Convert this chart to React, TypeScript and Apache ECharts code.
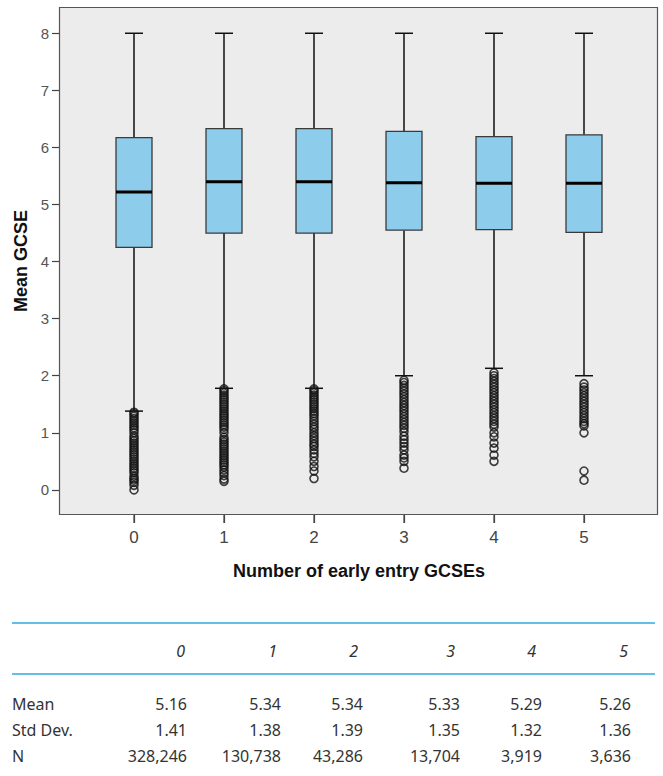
import React, { useEffect, useRef } from "react";
import * as echarts from "echarts";

const categories = ["0", "1", "2", "3", "4", "5"];
// [min whisker, Q1, median, Q3, max whisker]
const boxStats = [
  [1.38, 4.25, 5.22, 6.17, 8],
  [1.78, 4.5, 5.4, 6.33, 8],
  [1.78, 4.5, 5.4, 6.33, 8],
  [2.0, 4.55, 5.38, 6.28, 8],
  [2.13, 4.56, 5.37, 6.19, 8],
  [2.0, 4.51, 5.37, 6.22, 8],
];
const outliers0 = [0, 0.08, 0.13, 0.17, 0.2, 0.24, 0.3, 0.34, 0.38, 0.42, 0.46, 0.5, 0.54, 0.58, 0.62, 0.66, 0.7, 0.74, 0.78, 0.82, 0.86, 0.9, 0.94, 1.0, 1.05, 1.09, 1.13, 1.17, 1.21, 1.25, 1.29, 1.33, 1.36];
const outliers1 = [0.15, 0.19, 0.25, 0.3, 0.35, 0.4, 0.44, 0.48, 0.52, 0.56, 0.6, 0.64, 0.68, 0.72, 0.76, 0.8, 0.84, 0.88, 0.92, 1.0, 1.06, 1.1, 1.14, 1.18, 1.22, 1.26, 1.3, 1.34, 1.38, 1.42, 1.46, 1.5, 1.54, 1.58, 1.62, 1.66, 1.7, 1.74, 1.77];
const outliers2 = [0.2, 0.33, 0.41, 0.5, 0.58, 0.64, 0.7, 0.76, 0.8, 0.85, 0.9, 0.95, 1.0, 1.06, 1.1, 1.15, 1.2, 1.25, 1.3, 1.34, 1.38, 1.42, 1.46, 1.5, 1.54, 1.58, 1.62, 1.66, 1.7, 1.74, 1.77];
const outliers3 = [0.38, 0.5, 0.56, 0.61, 0.7, 0.76, 0.82, 0.88, 0.94, 1.02, 1.08, 1.13, 1.18, 1.23, 1.28, 1.33, 1.38, 1.43, 1.48, 1.53, 1.58, 1.63, 1.68, 1.73, 1.78, 1.83, 1.88, 1.92];
const outliers4 = [0.5, 0.61, 0.73, 0.82, 0.93, 1.0, 1.1, 1.15, 1.2, 1.25, 1.3, 1.35, 1.4, 1.45, 1.5, 1.55, 1.6, 1.65, 1.7, 1.75, 1.8, 1.85, 1.9, 1.95, 2.0, 2.05];
const outliers5 = [0.17, 0.33, 1.0, 1.12, 1.16, 1.2, 1.25, 1.3, 1.35, 1.4, 1.45, 1.5, 1.55, 1.6, 1.65, 1.7, 1.75, 1.8, 1.86];
const outlierLists = [outliers0, outliers1, outliers2, outliers3, outliers4, outliers5];
const yTicks = [0, 1, 2, 3, 4, 5, 6, 7, 8];
const yMin = -0.44;
const yMax = 8.46;

const tableHeader = ["0", "1", "2", "3", "4", "5"];
const tableMean = ["5.16", "5.34", "5.34", "5.33", "5.29", "5.26"];
const tableStd = ["1.41", "1.38", "1.39", "1.35", "1.32", "1.36"];
const tableN = ["328,246", "130,738", "43,286", "13,704", "3,919", "3,636"];
const rowLabels = ["Mean", "Std Dev.", "N"];

const colRight = [187, 281, 363, 460, 542, 631];
const headerRight = [185, 277, 358, 455, 536, 628];

export default function App() {
  const ref = useRef<HTMLDivElement>(null);
  useEffect(() => {
    if (!ref.current) return;
    const chart = echarts.init(ref.current, undefined, { renderer: "svg" });
    const boxData = boxStats.map((s, i) => [i, ...s]);
    const scatterData: number[][] = [];
    outlierLists.forEach((lst, i) => lst.forEach((v) => scatterData.push([i, v])));

    const tableFont = '"Noto Sans", "Open Sans", sans-serif';
    const axisFont = '"Liberation Sans", Arial, sans-serif';
    const graphics: any[] = [
      {
        type: "rect",
        z: -10,
        shape: { x: 59.5, y: 7.5, width: 598, height: 507 },
        style: { fill: "#ECECEC", stroke: "#555", lineWidth: 1.2 },
      },
      {
        type: "line",
        shape: { x1: 12, y1: 623, x2: 655, y2: 623 },
        style: { stroke: "#2DAAE1", lineWidth: 1.5 },
      },
      {
        type: "line",
        shape: { x1: 12, y1: 674, x2: 655, y2: 674 },
        style: { stroke: "#2DAAE1", lineWidth: 1.5 },
      },
    ];
    tableHeader.forEach((t, i) =>
      graphics.push({
        type: "text",
        style: {
          text: t, x: headerRight[i], y: 651, align: "right", verticalAlign: "middle",
          fontSize: 16, fontStyle: "italic", fontFamily: tableFont, fill: "#333",
        },
      })
    );
    const rows = [tableMean, tableStd, tableN];
    const rowY = [704, 730, 756];
    rows.forEach((row, r) => {
      graphics.push({
        type: "text",
        style: {
          text: rowLabels[r], x: 12, y: rowY[r], align: "left", verticalAlign: "middle",
          fontSize: 16, fontFamily: tableFont, fill: "#333",
        },
      });
      row.forEach((t, i) =>
        graphics.push({
          type: "text",
          style: {
            text: t, x: colRight[i], y: rowY[r], align: "right", verticalAlign: "middle",
            fontSize: 16, fontFamily: tableFont, fill: "#333",
          },
        })
      );
    });

    chart.setOption({
      animation: false,
      grid: { left: 89, right: 34, top: 7, bottom: 261 },
      graphic: { elements: graphics },
      xAxis: {
        type: "category",
        data: categories,
        boundaryGap: true,
        axisLine: { show: false, onZero: false },
        axisTick: { show: true, interval: 0, alignWithLabel: true, length: 8, lineStyle: { color: "#444", width: 1.2 } },
        axisLabel: { margin: 14, fontSize: 17, color: "#444", fontFamily: axisFont },
        name: "Number of early entry GCSEs",
        nameLocation: "middle",
        nameGap: 47,
        nameTextStyle: { fontSize: 18, fontWeight: "bold", color: "#111", fontFamily: axisFont },
      },
      yAxis: {
        type: "value",
        min: yMin,
        max: yMax,
        offset: 30,
        splitLine: { show: false },
        axisLine: { show: false },
        axisTick: { show: true, length: 7, customValues: yTicks, lineStyle: { color: "#444", width: 1.2 } },
        axisLabel: { margin: 10, fontSize: 15, color: "#555", customValues: yTicks, fontFamily: axisFont },
        name: "Mean GCSE",
        nameLocation: "middle",
        nameGap: 28,
        nameTextStyle: { fontSize: 18, fontWeight: "bold", color: "#111", fontFamily: axisFont },
      },
      series: [
        {
          type: "custom",
          data: boxData,
          encode: { x: 0, y: [1, 2, 3, 4, 5] },
          z: 3,
          clip: false,
          renderItem: (params: any, api: any) => {
            const idx = api.value(0);
            const pMin = api.coord([idx, api.value(1)]);
            const pQ1 = api.coord([idx, api.value(2)]);
            const pMed = api.coord([idx, api.value(3)]);
            const pQ3 = api.coord([idx, api.value(4)]);
            const pMax = api.coord([idx, api.value(5)]);
            const pBase = api.coord([idx, yMin]);
            const cx = pMed[0];
            const hw = 18;
            const cw = 9;
            const wStyle = { stroke: "#111", lineWidth: 1.5 };
            return {
              type: "group",
              children: [
                { type: "line", shape: { x1: cx, y1: pBase[1], x2: cx, y2: pBase[1] + 8 }, style: { stroke: "#444", lineWidth: 1.2 } },
                { type: "line", shape: { x1: cx, y1: pMax[1], x2: cx, y2: pQ3[1] }, style: wStyle },
                { type: "line", shape: { x1: cx, y1: pQ1[1], x2: cx, y2: pMin[1] }, style: wStyle },
                { type: "line", shape: { x1: cx - cw, y1: pMax[1], x2: cx + cw, y2: pMax[1] }, style: wStyle },
                { type: "line", shape: { x1: cx - cw, y1: pMin[1], x2: cx + cw, y2: pMin[1] }, style: wStyle },
                {
                  type: "rect",
                  shape: { x: cx - hw, y: pQ3[1], width: hw * 2, height: pQ1[1] - pQ3[1] },
                  style: { fill: "#8DCCEA", stroke: "#3a3a3a", lineWidth: 1.3 },
                },
                { type: "line", shape: { x1: cx - hw, y1: pMed[1], x2: cx + hw, y2: pMed[1] }, style: { stroke: "#000", lineWidth: 3 } },
              ],
            };
          },
        },
        {
          type: "scatter",
          data: scatterData,
          symbol: "circle",
          symbolSize: 8,
          z: 2,
          itemStyle: { color: "rgba(255,255,255,0)", borderColor: "#111", borderWidth: 1.6 },
        },
      ],
    });
    return () => chart.dispose();
  }, []);
  return (
    <div
      ref={ref}
      style={{ position: "fixed", left: 0, top: 0, width: 663, height: 776, background: "#fff" }}
    />
  );
}
